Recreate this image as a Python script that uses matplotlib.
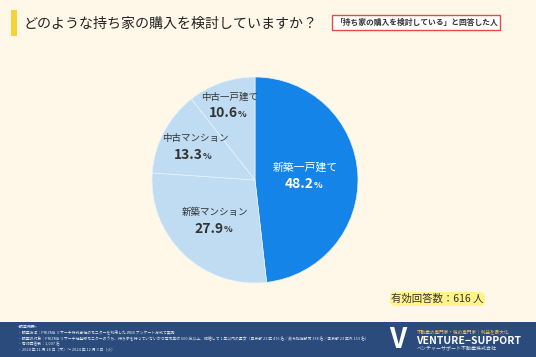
import matplotlib
matplotlib.use("Agg")
import matplotlib.pyplot as plt
from matplotlib.patches import Rectangle, FancyBboxPatch
import numpy as np

plt.rcParams['font.family'] = ['Noto Sans CJK JP', 'DejaVu Sans']

# data
labels = ["新築一戸建て", "新築マンション", "中古マンション", "中古一戸建て"]
shares = [48.2, 27.9, 13.3, 10.6]
colors = ["#1584E8", "#BFDCF2", "#BFDCF2", "#BFDCF2"]
text_colors = ["white", "#333333", "#333333", "#333333"]
label_radius = [0.49, 0.56, 0.66, 0.76]

title = "どのような持ち家の購入を検討していますか？"
subset_note = "「持ち家の購入を検討している」と回答した人"
n_note = "有効回答数：616 人"
footer_lines = [
    "<調査概要>",
    "・調査方法：PRIZMA リサーチ株式会社のモニターを利用した WEB アンケート方式で実施",
    "・調査の対象：PRIZMA リサーチ社登録モニターのうち、持ち家を持っていないかつ世帯年収 600 万以上、結婚して 1 年以内の男女（東京都 23 区 476 名／政令指定都市 378 名／東京都 23 区外 153 名）",
    "・有効回答数：1,007 名",
    "・2024 年 11 月 28 日（木）～ 2024 年 12 月 3 日（火）",
]

W, H = 536, 357
fig = plt.figure(figsize=(W / 100, H / 100), dpi=100)
fig.patch.set_facecolor("#FFF8E9")

def fx(x):
    return x / W

def fy(y):
    return 1 - y / H

# title block
fig.patches.append(Rectangle((fx(11), fy(36)), fx(6), 26 / H, transform=fig.transFigure,
                             facecolor="#F6D335", edgecolor="none"))
fig.text(fx(24), fy(24), title, fontsize=10.1, color="#222222", va="center", ha="left")
fig.text(fx(416), fy(22.5), subset_note, fontsize=5.6, color="#333333", va="center", ha="center",
         fontweight="bold",
         bbox=dict(boxstyle="square,pad=0.35", facecolor="white", edgecolor="#E8484A", linewidth=1))

# pie
ax = fig.add_axes([fx(152), fy(283), 206 / W, 206 / H])
wedges, _ = ax.pie(shares, colors=colors, startangle=90, counterclock=False,
                   wedgeprops=dict(edgecolor="#EAF3FB", linewidth=0.5))
ax.set_xlim(-1, 1)
ax.set_ylim(-1, 1)
ax.axis("off")

for w, lab, val, tc, r in zip(wedges, labels, shares, text_colors, label_radius):
    mid = np.deg2rad((w.theta1 + w.theta2) / 2)
    x, y = r * np.cos(mid), r * np.sin(mid)
    ax.text(x, y + 0.09, lab, fontsize=7.8 if tc == "white" else 6.8, color=tc,
            ha="center", va="center")
    t = ax.text(x - 0.06, y - 0.07, f"{val:.1f}", fontsize=10, color=tc,
                ha="center", va="center", fontweight="bold")
    ax.annotate("%", xy=(1, 0.12), xycoords=t, fontsize=6.5, color=tc,
                ha="left", va="bottom", fontweight="bold")

# respondents box
fig.patches.append(FancyBboxPatch((fx(390), fy(306)), 95 / W, 14 / H, transform=fig.transFigure,
                                  boxstyle="round,pad=0,rounding_size=0.012",
                                  facecolor="#FFF48A", edgecolor="none"))
fig.text(fx(437), fy(299), n_note, fontsize=7.5, color="#333333", ha="center", va="center")

# footer
fig.patches.append(Rectangle((0, 0), 1, 35 / H, transform=fig.transFigure,
                             facecolor="#2A4B7C", edgecolor="none"))
for i, line in enumerate(footer_lines):
    fig.text(fx(18), fy(327 + i * 5.8), line, fontsize=2.8, color="#E6EBF2", ha="left", va="center")

fig.text(fx(398), fy(340), "V", fontsize=20, color="white", ha="center", va="center",
         fontweight="bold")
fig.text(fx(417), fy(332), "不動産の専門家・税の専門家｜利益を最大化", fontsize=3.3, color="#F2C94C",
         ha="left", va="center")
fig.text(fx(416), fy(340.5), "VENTURE−SUPPORT", fontsize=7.5, color="white",
         ha="left", va="center", fontweight="bold")
fig.text(fx(417), fy(349), "ベンチャーサポート不動産株式会社", fontsize=3.6, color="#DDE4EE",
         ha="left", va="center")

fig.savefig("out.png", dpi=100, facecolor=fig.get_facecolor())
